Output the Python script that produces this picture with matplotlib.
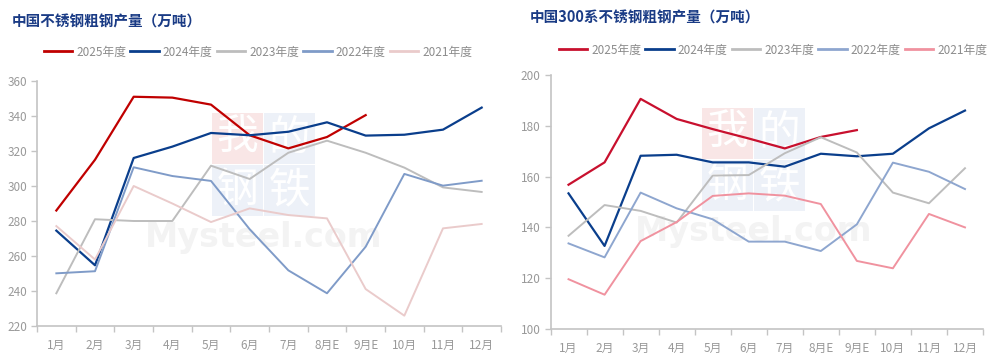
import numpy as np
import matplotlib.pyplot as plt
from matplotlib.patches import Rectangle

plt.rcParams['font.family'] = ['Noto Sans CJK SC', 'DejaVu Sans']

months = ['1月', '2月', '3月', '4月', '5月', '6月', '7月', '8月E', '9月E', '10月', '11月', '12月']
years = ['2025年度', '2024年度', '2023年度', '2022年度', '2021年度']

# 中国不锈钢粗钢产量（万吨）
total_2025 = [286, 315, 351, 350.5, 346.5, 329, 321.5, 328, 340.5]
total_2024 = [274.5, 254.7, 316, 322.5, 330.3, 329, 331, 336.4, 328.8, 329.3, 332.2, 344.8]
total_2023 = [238.7, 281, 280, 280, 311.6, 304, 319, 325.9, 319, 310.5, 299.2, 296.6]
total_2022 = [250.1, 251.3, 310.7, 305.7, 302.9, 275.3, 251.8, 238.7, 265.3, 306.9, 300.2, 303]
total_2021 = [277.1, 258, 300, 290, 279.4, 287.2, 283.4, 281.5, 241.1, 225.9, 275.8, 278.3]

# 中国300系不锈钢粗钢产量（万吨）
s300_2025 = [156.8, 165.6, 190.6, 182.7, 178.7, 175, 171.1, 175.6, 178.3]
s300_2024 = [153.4, 132.7, 168.2, 168.6, 165.6, 165.6, 163.9, 169, 168, 169, 179, 186]
s300_2023 = [136.7, 148.8, 146.5, 141.9, 160.4, 160.6, 169.2, 175.5, 169.5, 153.7, 149.5, 163.3]
s300_2022 = [133.7, 128.2, 153.7, 147.5, 143.2, 134.4, 134.4, 130.7, 141.2, 165.5, 161.9, 155.1]
s300_2021 = [119.6, 113.5, 134.6, 142.1, 152.4, 153.4, 152.5, 149.2, 126.8, 123.9, 145.3, 140]

left_series = [total_2025, total_2024, total_2023, total_2022, total_2021]
right_series = [s300_2025, s300_2024, s300_2023, s300_2022, s300_2021]

left_colors = ['#C00000', '#0A3E8C', '#BDBDBD', '#7F9BC8', '#EACBCB']
right_colors = ['#C8102E', '#0A3E8C', '#BDBDBD', '#8EA6CF', '#F0929F']
widths = [1.6, 1.6, 1.4, 1.4, 1.4]

fig = plt.figure(figsize=(9.97, 3.6), dpi=100)
axL = fig.add_axes([37 / 997, 1 - 326 / 360, 464 / 997, 245 / 360])
axR = fig.add_axes([550.5 / 997, 1 - 329 / 360, 432.5 / 997, 254 / 360])

title_color = '#1A3B85'
tick_color = '#999999'
axis_color = '#C4C4C4'


def watermark(x0, y0):
    # faint "我的钢铁 Mysteel.com" mark behind the plots, in figure pixels
    W, H = 997, 360
    s = 51
    boxes = [(0, 0, '#F9E6E6', '我'), (s + 1, 0, '#EDF1F8', '的'),
             (0, s + 1, '#EDF1F8', '钢'), (s + 1, s + 1, '#EDF1F8', '铁')]
    for dx, dy, c, ch in boxes:
        fig.patches.append(Rectangle(((x0 + dx) / W, 1 - (y0 + dy + s) / H), s / W, s / H,
                                     transform=fig.transFigure, facecolor=c,
                                     edgecolor='none', zorder=-3))
        fig.text((x0 + dx + s / 2) / W, 1 - (y0 + dy + s / 2) / H, ch,
                 ha='center', va='center', fontsize=30, color='white', zorder=-2)
    fig.text((x0 + s + 1) / W, 1 - (y0 + 2 * s + 22) / H, 'Mysteel.com',
             ha='center', va='center', fontsize=24, fontweight='bold', color='#F3F3F3',
             zorder=-2, family='DejaVu Sans')


watermark(212, 113)
watermark(702, 108)

x = np.arange(len(months))


def style(ax, series, colors, ylim, yticks, title, tx, ty, lx, ly):
    for vals, c, lw, lab in zip(series, colors, widths, years):
        ax.plot(x[:len(vals)], vals, color=c, lw=lw, label=lab, zorder=3)
    ax.set_facecolor('none')
    ax.set_xlim(-0.5, len(months) - 0.5)
    ax.set_ylim(*ylim)
    ax.set_yticks(yticks)
    ax.set_xticks(x)
    ax.set_xticklabels(months)
    ax.set_xticks(np.arange(-0.5, len(months)), minor=True)
    ax.tick_params(axis='x', which='major', length=0, pad=9, labelsize=8.5, labelcolor=tick_color)
    ax.tick_params(axis='x', which='minor', length=4, color=axis_color, width=1)
    ax.tick_params(axis='y', length=4, color=axis_color, width=1, labelsize=8.5,
                   labelcolor=tick_color, pad=3)
    for sp in ['top', 'right']:
        ax.spines[sp].set_visible(False)
    for sp in ['left', 'bottom']:
        ax.spines[sp].set_color(axis_color)
        ax.spines[sp].set_linewidth(1.2)
    fig.text(tx / 997, 1 - ty / 360, title, fontsize=10.5, fontweight='bold',
             color=title_color, ha='left', va='center')
    leg = fig.legend(handles=ax.get_lines(), labels=years, ncol=5, frameon=False,
                     loc='center', bbox_to_anchor=(lx / 997, 1 - ly / 360),
                     fontsize=8.5, handlelength=2.4, handletextpad=0.35, columnspacing=0.35,
                     labelcolor='#8C8C8C')
    for h in leg.get_lines():
        h.set_linewidth(2)


style(axL, left_series, left_colors, (220, 360), np.arange(220, 361, 20),
      '中国不锈钢粗钢产量（万吨）', 12, 22, 258, 52)
style(axR, right_series, right_colors, (100, 200), np.arange(100, 201, 20),
      '中国300系不锈钢粗钢产量（万吨）', 530, 18, 773, 50)

fig.savefig('out.png', dpi=100, facecolor='white')
